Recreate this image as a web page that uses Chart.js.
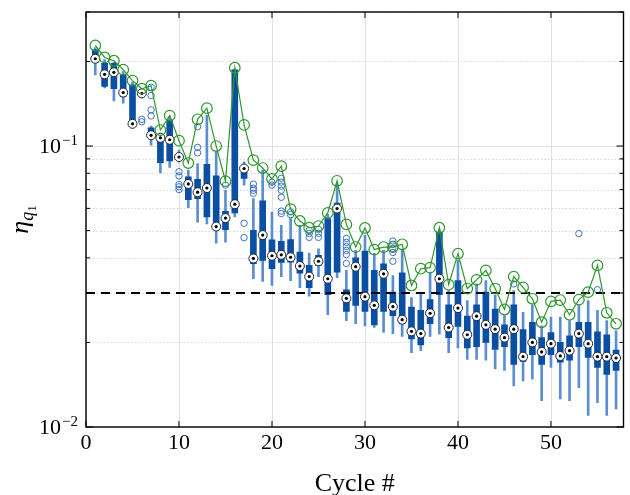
<!DOCTYPE html>
<html><head><meta charset="utf-8">
<style>html,body{margin:0;padding:0;background:#fff}#wrap{width:630px;height:495px;position:relative}</style>
<script src="https://cdn.jsdelivr.net/npm/chart.js@4.4.1/dist/chart.umd.min.js"></script>
</head><body><div id="wrap"><canvas id="c" width="630" height="495"></canvas></div>
<script>
// ---- data ----
const cycles = [1,2,3,4,5,6,7,8,9,10,11,12,13,14,15,16,17,18,19,20,21,22,23,24,25,26,27,28,29,30,31,32,33,34,35,36,37,38,39,40,41,42,43,44,45,46,47,48,49,50,51,52,53,54,55,56,57];
const whiskerLow = [0.179,0.161,0.1448,0.142,0.116,0.1485,0.1008,0.0803,0.0839,0.0877,
  0.0604,0.0536,0.0528,0.0451,0.0455,0.0559,0.0726,0.0337,0.0330,0.0319,
  0.0343,0.0332,0.0313,0.0292,0.0343,0.0251,0.0340,0.0239,0.0233,0.0229,
  0.0226,0.0217,0.0215,0.0210,0.0184,0.0187,0.0210,0.0214,0.0184,0.0191,
  0.0174,0.0174,0.0173,0.0161,0.0159,0.0140,0.0146,0.0148,0.0124,0.0163,
  0.0126,0.0124,0.0138,0.0110,0.0122,0.0110,0.0116];
const q1 = [0.198,0.163,0.160,0.150,0.1188,0.1509,0.1077,0.0872,0.0886,0.0898,
  0.0645,0.0650,0.0559,0.0515,0.0504,0.0578,0.0767,0.0381,0.0392,0.0366,
  0.0385,0.0386,0.0353,0.0313,0.0376,0.0296,0.0356,0.0258,0.0271,0.0258,
  0.0231,0.0258,0.0249,0.0233,0.0206,0.0196,0.0233,0.0296,0.0208,0.0228,
  0.0191,0.0193,0.0200,0.0189,0.0193,0.0167,0.0171,0.0181,0.0167,0.0181,
  0.0170,0.0173,0.0193,0.0177,0.0163,0.0154,0.0159];
const median = [0.2045,0.180,0.183,0.155,0.120,0.154,0.1092,0.1070,0.1053,0.0914,
  0.0733,0.0685,0.0709,0.0517,0.0554,0.0621,0.0832,0.0398,0.0482,0.0407,
  0.0410,0.0402,0.0374,0.0343,0.0389,0.0337,0.0599,0.0287,0.0372,0.0291,
  0.0271,0.0351,0.0268,0.0241,0.0219,0.0215,0.0254,0.0337,0.0226,0.0265,
  0.0213,0.0248,0.0231,0.0223,0.0208,0.0223,0.0178,0.0200,0.0185,0.0198,
  0.0179,0.0187,0.0215,0.0198,0.0178,0.0178,0.0176];
const q3 = [0.220,0.197,0.197,0.1793,0.165,0.1572,0.116,0.1086,0.1238,0.0929,
  0.0777,0.0762,0.0860,0.0783,0.0586,0.1868,0.0840,0.0501,0.0638,0.0464,
  0.0458,0.0465,0.0419,0.0376,0.0408,0.0552,0.0627,0.0308,0.0400,0.0423,
  0.0361,0.0381,0.0302,0.0354,0.0267,0.0260,0.0284,0.0494,0.0272,0.0332,
  0.0248,0.0272,0.0302,0.0263,0.0231,0.0272,0.0222,0.0236,0.0208,0.0217,
  0.0200,0.0211,0.0236,0.0236,0.0218,0.0213,0.0188];
const whiskerHigh = [0.224,0.203,0.199,0.184,0.169,0.159,0.1179,0.1113,0.127,0.0967,
  0.0821,0.0867,0.129,0.0952,0.0696,0.188,0.0879,0.0650,0.0821,0.0582,
  0.0522,0.0553,0.0522,0.0416,0.0431,0.0572,0.0732,0.0361,0.0425,0.0481,
  0.0415,0.0425,0.0346,0.0425,0.0289,0.0298,0.0356,0.0505,0.0306,0.0392,
  0.0282,0.0323,0.0332,0.0294,0.0249,0.0306,0.0256,0.0271,0.0229,0.0246,
  0.0246,0.0239,0.0271,0.0282,0.0260,0.0239,0.0220];
const maxValue = [0.228,0.2067,0.2012,0.187,0.171,0.160,0.164,0.114,0.1283,0.1045,
  0.0870,0.1245,0.1364,0.100,0.0750,0.190,0.1189,0.0891,0.0835,0.0764,
  0.0848,0.0596,0.0541,0.0512,0.0519,0.0578,0.0752,0.0526,0.0437,0.0511,
  0.0428,0.0437,0.0437,0.0447,0.0319,0.0366,0.0369,0.0512,0.0321,0.0414,
  0.0311,0.0334,0.0361,0.0311,0.0262,0.0343,0.0314,0.0286,0.0236,0.0280,
  0.0283,0.0251,0.0284,0.0302,0.0376,0.0255,0.0233];
const outlierCycle = [6,6,7,7,7,7,10,10,10,10,10,12,12,12,15,17,17,18,18,18,18,20,20,
  21,21,21,21,21,21,21,22,22,24,24,24,25,25,25,28,28,28,28,28,28,33,33,33,33,33,46,53,55];
const outlierValue = [0.1245,0.122,0.162,0.1513,0.1345,0.128,0.081,0.0783,0.073,0.0716,0.070,
  0.1172,0.0989,0.0946,0.0726,0.0531,0.0472,0.0732,0.0708,0.0696,0.0679,0.0743,0.0726,
  0.0768,0.0744,0.072,0.0696,0.0657,0.0587,0.0575,0.0583,0.057,0.0501,0.0489,0.0473,
  0.0505,0.0489,0.0473,0.0469,0.0454,0.0439,0.0425,0.0411,0.0382,
  0.0459,0.0447,0.0432,0.0418,0.0389,0.0323,0.0488,0.0308];
const threshold = 0.03;
const xMin = 0, xMax = 57.8, yMin = 0.01, yMax = 0.3;
const xTickValues = [0,10,20,30,40,50];
const yMajorTicks = [0.01,0.1];
const yMajorExp = ['2','1'];
const yMinorTicks = [0.02,0.03,0.04,0.05,0.06,0.07,0.08,0.09,0.2,0.3];

// ---- datasets built from the arrays ----
const whiskerData = cycles.map((c,i)=>({x:c,y:[whiskerLow[i],whiskerHigh[i]]}));
const boxData = cycles.map((c,i)=>({x:c,y:[q1[i],q3[i]]}));
const medianData = cycles.map((c,i)=>({x:c,y:median[i]}));
const maxData = cycles.map((c,i)=>({x:c,y:maxValue[i]}));
const outlierData = outlierCycle.map((c,i)=>({x:c,y:outlierValue[i]}));
const thresholdData = [{x:xMin,y:threshold},{x:xMax,y:threshold}];

const SERIF = '"Liberation Serif", "DejaVu Serif", serif';

const decor = {
  id:'decor',
  beforeDatasetsDraw(chart){
    const {ctx, chartArea:a, scales:{x,y}} = chart;
    ctx.save();
    ctx.lineWidth = 1;
    ctx.strokeStyle = '#d6d6d6';
    ctx.setLineDash([1.5,2]);
    yMinorTicks.forEach(v=>{const p=Math.round(y.getPixelForValue(v))+0.5;ctx.beginPath();ctx.moveTo(a.left,p);ctx.lineTo(a.right,p);ctx.stroke();});
    ctx.setLineDash([]);
    ctx.strokeStyle = '#e0e0e0';
    yMajorTicks.forEach(v=>{const p=Math.round(y.getPixelForValue(v))+0.5;ctx.beginPath();ctx.moveTo(a.left,p);ctx.lineTo(a.right,p);ctx.stroke();});
    xTickValues.forEach(v=>{const p=Math.round(x.getPixelForValue(v))+0.5;ctx.beginPath();ctx.moveTo(p,a.top);ctx.lineTo(p,a.bottom);ctx.stroke();});
    ctx.restore();
  },
  afterDraw(chart){
    const {ctx, chartArea:a, scales:{x,y}} = chart;
    ctx.save();
    ctx.strokeStyle = '#000';
    ctx.lineWidth = 1.4;
    ctx.strokeRect(a.left, a.top, a.right-a.left, a.bottom-a.top);
    ctx.lineWidth = 1;
    const tick=(x1,y1,x2,y2)=>{ctx.beginPath();ctx.moveTo(x1,y1);ctx.lineTo(x2,y2);ctx.stroke();};
    yMajorTicks.forEach(v=>{const p=y.getPixelForValue(v);tick(a.left,p,a.left+7,p);tick(a.right,p,a.right-7,p);});
    yMinorTicks.forEach(v=>{const p=y.getPixelForValue(v);tick(a.left,p,a.left+4,p);tick(a.right,p,a.right-4,p);});
    xTickValues.forEach(v=>{const p=x.getPixelForValue(v);tick(p,a.bottom,p,a.bottom-6);tick(p,a.top,p,a.top+6);});
    ctx.fillStyle = '#000';
    ctx.textAlign = 'center';
    ctx.textBaseline = 'alphabetic';
    ctx.font = '22px ' + SERIF;
    xTickValues.forEach(v=>ctx.fillText(String(v), x.getPixelForValue(v), a.bottom+22));
    yMajorTicks.forEach((v,i)=>{
      const p=y.getPixelForValue(v);
      ctx.font = '15px ' + SERIF;
      const sup = '\u2212'+yMajorExp[i];
      const ws = ctx.measureText(sup).width;
      ctx.textAlign='left';
      const right = a.left-8;
      ctx.fillText(sup, right-ws, p-1);
      ctx.font = '22px ' + SERIF;
      const wb = ctx.measureText('10').width;
      ctx.fillText('10', right-ws-wb-1, p+7);
    });
    ctx.textAlign='center';
    ctx.font = '26px ' + SERIF;
    ctx.fillText('Cycle #', (a.left+a.right)/2, 491);
    ctx.save();
    ctx.translate(28, (a.top+a.bottom)/2);
    ctx.rotate(-Math.PI/2);
    ctx.textAlign='left';
    ctx.font = 'italic 26px ' + SERIF;
    const we = ctx.measureText('\u03B7').width;
    ctx.font = 'italic 18px ' + SERIF;
    const wq = ctx.measureText('q').width;
    ctx.font = '13px ' + SERIF;
    const w1 = ctx.measureText('1').width;
    let sx = -(we+wq+w1)/2;
    ctx.font = 'italic 26px ' + SERIF; ctx.fillText('\u03B7', sx, 0); sx+=we;
    ctx.font = 'italic 18px ' + SERIF; ctx.fillText('q', sx, 5); sx+=wq;
    ctx.font = '13px ' + SERIF; ctx.fillText('1', sx, 8);
    ctx.restore();
    ctx.restore();
  }
};

new Chart(document.getElementById('c'), {
  type:'bar',
  data:{datasets:[
    {type:'bar', data:whiskerData, backgroundColor:'#5b8ed0', barThickness:2, grouped:false, order:6, borderWidth:0},
    {type:'bar', data:boxData, backgroundColor:'#0b4fa3', barThickness:6, grouped:false, order:5, borderWidth:0},
    {type:'line', data:outlierData, showLine:false, pointRadius:3.2, pointBorderColor:'#3d72c4', pointBackgroundColor:'rgba(255,255,255,0)', pointBorderWidth:1, order:4},
    {type:'line', data:thresholdData, borderColor:'#000', borderWidth:2, borderDash:[9,6], pointRadius:0, order:3},
    {type:'line', data:medianData, showLine:false, pointRadius:4.5, pointBackgroundColor:'#fff', pointBorderColor:'#1c2738', pointBorderWidth:1, order:2},
    {type:'line', data:medianData, showLine:false, pointRadius:1.6, pointBackgroundColor:'#000', pointBorderWidth:0, order:1},
    {type:'line', data:maxData, borderColor:'#2f962f', borderWidth:1.2, tension:0, pointRadius:5.3, pointBorderColor:'#2f962f', pointBackgroundColor:'rgba(0,0,0,0)', pointBorderWidth:1.2, order:0}
  ]},
  options:{
    responsive:false, animation:false, devicePixelRatio:1,
    layout:{padding:{top:12,right:1,left:0,bottom:0}},
    plugins:{legend:{display:false}, tooltip:{enabled:false}},
    scales:{
      x:{type:'linear', min:xMin, max:xMax, offset:false, grid:{display:false}, border:{display:false}, ticks:{display:false}, afterFit(s){s.height=68;}},
      y:{type:'logarithmic', min:yMin, max:yMax, grid:{display:false}, border:{display:false}, ticks:{display:false}, afterFit(s){s.width=86;}}
    }
  },
  plugins:[decor]
});
</script></body></html>
